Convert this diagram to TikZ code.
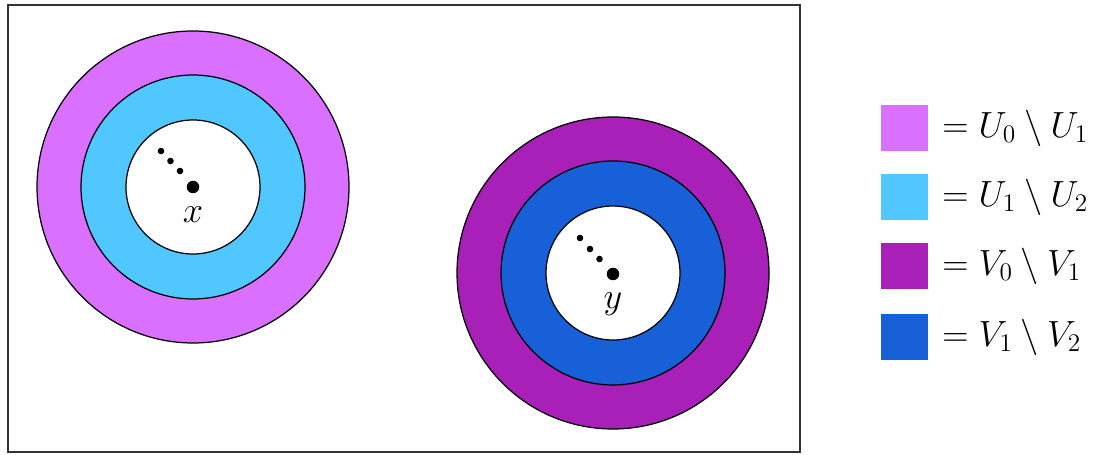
\documentclass[tikz,border=0pt]{standalone}
\usepackage{amsmath, amssymb}
\usepackage{tikz}

\definecolor{uzero}{HTML}{D970FF}
\definecolor{uone}{HTML}{50C8FF}
\definecolor{vzero}{HTML}{A820B8}
\definecolor{vone}{HTML}{1860D8}

\tikzset{
  ring/.style={draw=black, line width=0.7pt},
  ctr/.style={circle, fill=black, inner sep=0pt, minimum size=0.25cm},
  swatch/.style={rectangle, inner sep=0pt, minimum size=0.93cm},
  legtext/.style={anchor=west, inner sep=0pt, font=\fontsize{19.6}{24}\selectfont}
}

\begin{document}
\begin{tikzpicture}[x=0.02cm, y=-0.02cm]
\useasboundingbox (0,0) rectangle (1095,455);

% Frame
\draw[line width=1.1pt, black!80] (8,5) rectangle (800,452);

% Neighbourhoods of x
\filldraw[ring, fill=uzero] (193,187) circle (156);
\filldraw[ring, fill=uone] (193,187) circle (112);
\filldraw[ring, fill=white] (193,187) circle (67);
\node[ctr] (x) at (193,187) {};
\foreach \dx/\dy in {-32/-36, -22.5/-26, -13/-16}
  \fill (x) ++(\dx,\dy) circle (3.3);
\node[font=\fontsize{20}{24}\selectfont] (xlab) at (193,215) {$x$};

% Neighbourhoods of y
\filldraw[ring, fill=vzero] (613,273) circle (156);
\filldraw[ring, fill=vone] (613,273) circle (112);
\filldraw[ring, fill=white] (613,273) circle (67);
\node[ctr] (y) at (613,274) {};
\foreach \dx/\dy in {-33/-36, -23/-25, -13.5/-15}
  \fill (y) ++(\dx,\dy) circle (3.3);
\node[font=\fontsize{20}{24}\selectfont] (ylab) at (613,304) {$y$};

% Legend
\node[swatch, fill=uzero] (k1) at (904.5,128) {};
\node[swatch, fill=uone] (k2) at (904.5,197) {};
\node[swatch, fill=vzero] (k3) at (904.5,266) {};
\node[swatch, fill=vone] (k4) at (904.5,337) {};
\node[legtext] (t1) at (942,128) {$=U_0\setminus U_1$};
\node[legtext] (t2) at (942,197) {$=U_1\setminus U_2$};
\node[legtext] (t3) at (942,266) {$=V_0\setminus V_1$};
\node[legtext] (t4) at (942,337) {$=V_1\setminus V_2$};
\end{tikzpicture}
\end{document}
